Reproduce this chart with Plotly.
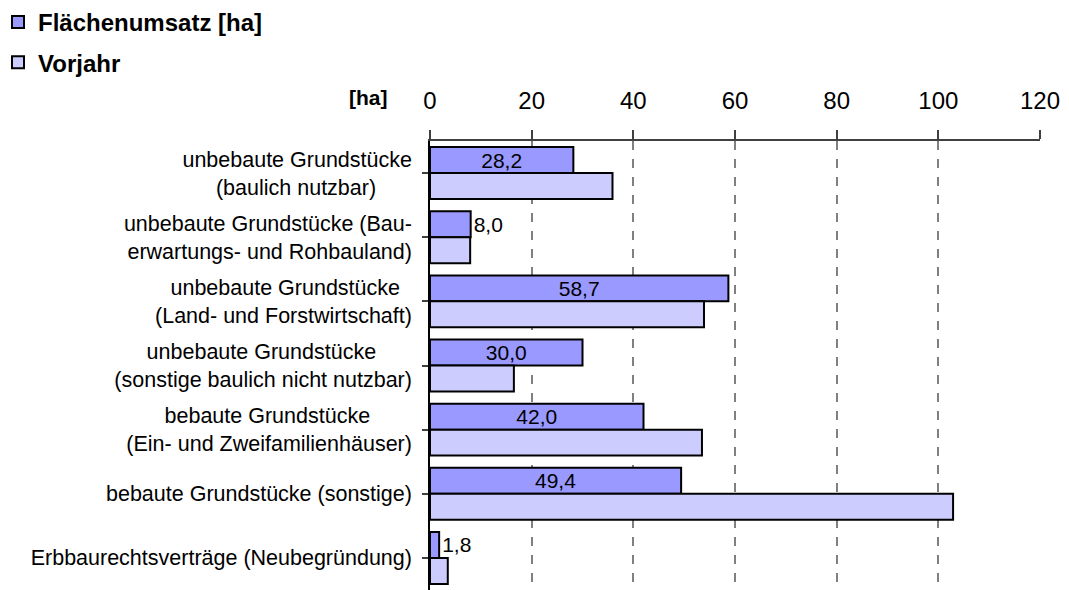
import plotly.graph_objects as go

# ---- data ----
categories = [
    ("unbebaute Grundstücke", "(baulich nutzbar)"),
    ("unbebaute Grundstücke (Bau-", "erwartungs- und Rohbauland)"),
    ("unbebaute Grundstücke", "(Land- und Forstwirtschaft)"),
    ("unbebaute Grundstücke", "(sonstige baulich nicht nutzbar)"),
    ("bebaute Grundstücke", "(Ein- und Zweifamilienhäuser)"),
    ("bebaute Grundstücke (sonstige)",),
    ("Erbbaurechtsverträge (Neubegründung)",),
]
flaechenumsatz = [28.2, 8.0, 58.7, 30.0, 42.0, 49.4, 1.8]
vorjahr = [35.9, 7.9, 53.9, 16.5, 53.5, 102.9, 3.5]
x_ticks = [0, 20, 40, 60, 80, 100, 120]

name_current = "Flächenumsatz [ha]"
name_prev = "Vorjahr"
unit_label = "[ha]"

FONT = "Arial, Liberation Sans, sans-serif"

# the page body adds an 8px margin; size the figure so it fits the window
PAGE_PAD = 8
FIG_W, FIG_H = 1069 - PAGE_PAD, 590 - PAGE_PAD
M_L, M_R, M_T, M_B = 430 - PAGE_PAD, 29, 141 - PAGE_PAD, 0
PLOT_W = FIG_W - M_L - M_R
PLOT_H = FIG_H - M_T - M_B

# approximate Arial advance widths (em) to centre two-line labels
W = {' ': .278, '(': .333, ')': .333, '-': .333, 'a': .556, 'b': .556, 'c': .5,
     'd': .556, 'e': .556, 'f': .278, 'g': .556, 'h': .556, 'i': .222, 'j': .222,
     'k': .5, 'l': .222, 'm': .833, 'n': .556, 'o': .556, 'r': .333, 's': .5,
     't': .278, 'u': .556, 'v': .5, 'w': .722, 'z': .5, 'ä': .556, 'ü': .556,
     'B': .667, 'E': .667, 'F': .611, 'G': .778, 'L': .556, 'N': .722, 'R': .722,
     'Z': .611}


def width(s):
    return sum(W.get(ch, .556) for ch in s)


def centred(lines):
    if len(lines) == 1:
        return lines[0]
    wmax = max(width(l) for l in lines)
    out = []
    for l in lines:
        n = int(round((wmax - width(l)) / 2 / 0.278))
        out.append(l + "\u00a0" * n)
    return "<br>".join(out)


ticktext = [centred(c) for c in categories]
ids = list(range(len(categories)))

fig = go.Figure()
fig.add_trace(go.Bar(
    y=ids, x=flaechenumsatz, orientation="h", name=name_current,
    marker=dict(color="#9999FF", line=dict(color="black", width=2)),
    texttemplate="%{x:.1f}",
    textposition=["inside" if v > 10 else "outside" for v in flaechenumsatz],
    insidetextanchor="middle",
    textfont=dict(family=FONT, size=21, color="black"),
    constraintext="none", cliponaxis=False,
    legendgroup="a",
))
fig.add_trace(go.Bar(
    y=ids, x=vorjahr, orientation="h", name=name_prev,
    marker=dict(color="#CCCCFF", line=dict(color="black", width=2)),
    legendgroup="b",
))

fig.update_layout(
    width=FIG_W, height=FIG_H,
    paper_bgcolor="white", plot_bgcolor="white",
    margin=dict(l=M_L, r=M_R, t=M_T, b=M_B, autoexpand=False),
    barmode="group", bargap=0.19, bargroupgap=0,
    separators=",.",
    font=dict(family=FONT, color="black"),
    showlegend=True,
    legend=dict(
        xref="paper", yref="paper",
        x=(-10 - M_L) / PLOT_W, y=1 + (M_T + 8) / PLOT_H,
        xanchor="left", yanchor="top",
        font=dict(family=FONT, size=24, weight="bold", color="black"),
        traceorder="grouped", tracegroupgap=6,
        bgcolor="rgba(0,0,0,0)",
    ),
    xaxis=dict(
        side="top", range=[0, 120], tickvals=x_ticks,
        tickfont=dict(family=FONT, size=24, color="black"),
        showline=True, linecolor="#404040", linewidth=1.5,
        ticks="outside", ticklen=9, tickcolor="#404040", tickwidth=1.5,
        ticklabelstandoff=12,
        showgrid=True, gridcolor="#808080", gridwidth=1.5, griddash="9px,9px",
        zeroline=False, fixedrange=True,
    ),
    yaxis=dict(
        tickvals=ids, ticktext=ticktext, range=[len(ids) - 0.5, -0.5],
        tickfont=dict(family=FONT, size=21.5, color="black"),
        showline=True, linecolor="black", linewidth=1.5,
        ticks="outside", ticklen=6, tickcolor="#404040", tickwidth=1.5,
        tickson="boundaries", ticklabelstandoff=6,
        showgrid=False, zeroline=False, fixedrange=True,
    ),
    annotations=[dict(
        text=unit_label, xref="paper", yref="paper", x=0, y=1,
        xanchor="right", yanchor="bottom", xshift=-40, yshift=30,
        showarrow=False,
        font=dict(family=FONT, size=21, weight="bold", color="black"),
    )],
)

fig.write_html("out.html")
